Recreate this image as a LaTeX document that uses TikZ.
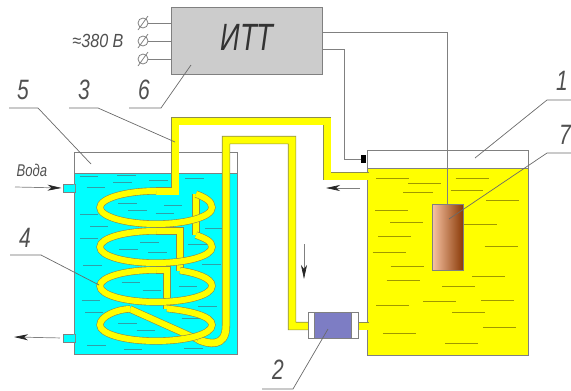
\documentclass[tikz,border=0pt]{standalone}
\usepackage{fontspec}
\setmainfont{Liberation Sans}
\usetikzlibrary{arrows.meta,positioning}
\definecolor{linegray}{HTML}{808080}
\definecolor{pipeline}{HTML}{8C8C50}
\definecolor{bodygray}{HTML}{CCCCCC}
\definecolor{pipeyellow}{HTML}{FFFF00}
\definecolor{watercyan}{HTML}{00FFFF}
\definecolor{filterblue}{HTML}{7D7DC4}
\definecolor{dashy}{HTML}{A09800}
\definecolor{dashc}{HTML}{30A0A8}
\definecolor{labelgray}{HTML}{505050}
\definecolor{elL}{HTML}{F8C4A4}
\definecolor{elR}{HTML}{8A3A08}
\tikzset{
  box/.style={draw=linegray,line width=.9pt,inner sep=0pt,outer sep=0pt,anchor=north west},
  wire/.style={draw=linegray,line width=.9pt},
  leader/.style={draw=labelgray!85,line width=.7pt},
  flow/.style={draw=linegray,line width=.7pt,-{Stealth[length=14pt,width=6pt,inset=4pt,black!85]}},
  num/.style={text=labelgray,font=\fontsize{28}{28}\selectfont\itshape,inner sep=0pt},
  lbl/.style={text=labelgray,font=\fontsize{19}{19}\selectfont\itshape,inner sep=0pt},
  term/.style={draw=linegray,line width=.8pt,circle,minimum size=10pt,inner sep=0pt},
}
\newcommand{\nx}[2]{\scalebox{#1}[1]{#2}}
% a pipe piece: grey outline under a yellow core; #1 outer width, #2 core width, #3 path
\newcommand{\pipepiece}[3]{%
  \path[draw=pipeline,line width=#1pt,miter limit=10] #3;
  \path[draw=pipeyellow,line width=#2pt,miter limit=10] #3;}
\begin{document}
\begin{tikzpicture}[x=1pt,y=-1pt]
\useasboundingbox (0,0) rectangle (571,391);
% tanks
\node[box,fill=white,minimum width=163pt,minimum height=202pt] (tankL) at (74.5,152) {};
\fill[watercyan] (74.5,173) rectangle (237,354);
\draw[wire] (74.5,173) -- (237,173);
\node[box,minimum width=163pt,minimum height=202pt] (tankLb) at (74.5,152) {};
\node[box,fill=white,minimum width=161pt,minimum height=205pt] (tankR) at (367,150) {};
\fill[pipeyellow] (367,168) rectangle (528,355);
\draw[wire] (367,168) -- (528,168);
\node[box,minimum width=161pt,minimum height=205pt] (tankRb) at (367,150) {};
% nozzles
\node[box,fill=watercyan,minimum width=12pt,minimum height=8pt] (nozA) at (63,184) {};
\node[box,fill=watercyan,minimum width=12pt,minimum height=8pt] (nozB) at (63,334) {};
\fill[watercyan] (73,184.6) rectangle (75.2,191.4) (73,334.6) rectangle (75.2,341.4);
% liquid dashes
\foreach \a/\b/\c in {288/387/535,385/484/550,370/460/578,527/626/534,512/610/572}
  \draw[dashy,line width=1pt] ({280+\a/3},{\c/3}) -- ({280+\b/3},{\c/3});
\foreach \a/\b/\c in {285/385/60,330/430/97,295/393/139,278/378/187,332/432/230,320/420/271,288/388/346,310/409/431,430/529/333,495/594/459,516/615/368,487/585/290,576/675/260,604/703/331,610/709/412,614/713/168,553/652/103,618/718/32}
  \draw[dashy,line width=1pt] ({280+\a/3},{190+\c/3}) -- ({280+\b/3},{190+\c/3});
\foreach \a/\b/\c in {240/295/529,352/407/527,340/395/547,260/315/563,448/503/540,556/611/536}
  \draw[dashc,line width=.9pt] ({\a/3},{\c/3}) -- ({\b/3},{\c/3});
\foreach \a/\b/\c in {355/410/41,385/440/61,492/547/46,467/522/71,240/295/74,270/325/110,240/295/144,615/670/114,420/477/157,358/413/177,445/500/188,565/620/163,250/305/227,607/662/222,365/420/278,428/483/302,537/592/288,245/300/332,255/310/367,595/650/350,355/410/400,545/600/386,410/465/421,262/317/465,372/427/477,553/608/475}
  \draw[dashc,line width=.9pt] ({\a/3},{190+\c/3}) -- ({\b/3},{190+\c/3});
% pipes: risers first, coils over them
\pipepiece{8.2}{7}{(368.5,176) -- (327,176) -- (327,121) -- (175,121) -- (175,191) -- (156,191)}
\pipepiece{8.2}{7}{(358,326) -- (368.5,326)}
\pipepiece{7.2}{6}{(130,309) -- (198,339.5)}
\pipepiece{8.2}{7}{(198,339.5) .. controls (208,344) and (226,348) .. (226,326) -- (226,140) -- (292,140) -- (292,326) -- (310,326)}
\pipepiece{7.2}{6}{(196,194) -- (196,235)}
\pipepiece{7.2}{6}{(156,231) -- (180,231) -- (180,270.5)}
\pipepiece{7.2}{6}{(156,270) -- (167,270) -- (167,308.5)}
\pipepiece{7.2}{6}{(156,191)
 .. controls (125,191) and (100,198.5) .. (100,207.5)
 .. controls (100,216.5) and (125,224) .. (156,224)
 .. controls (187,224) and (212,216.5) .. (212,207.5)
 .. controls (212,201) and (204,197) .. (196,194)}
\pipepiece{7.2}{6}{(196,235)
 .. controls (204,238) and (212,241) .. (212,247)
 .. controls (212,256) and (187,263) .. (156,263)
 .. controls (125,263) and (100,256) .. (100,247)
 .. controls (100,238) and (125,231) .. (156,231)}
\pipepiece{7.2}{6}{(180,270.5)
 .. controls (196,273) and (212,278) .. (212,286)
 .. controls (212,295) and (187,302) .. (156,302)
 .. controls (125,302) and (100,295) .. (100,286)
 .. controls (100,277) and (125,270) .. (156,270)}
\pipepiece{7.2}{6}{(167,308.5)
 .. controls (190,311) and (212,316) .. (212,325)
 .. controls (212,334) and (187,341) .. (156,341)
 .. controls (125,341) and (100,334) .. (100,325)
 .. controls (100,316) and (118,309) .. (130,309)}
% filter
\node[box,fill=white,minimum width=50pt,minimum height=26pt] (filter) at (308,312) {};
\node[box,fill=filterblue,minimum width=37pt,minimum height=26pt] (filtercore) at (314,312) {};
% electrode
\node[box,left color=elL,right color=elR,minimum width=31pt,minimum height=66pt] (electrode) at (432,204) {};
% ITT
\node[box,fill=bodygray,minimum width=151pt,minimum height=67pt] (itt) at (171,7) {};
\node[text=black!80,font=\fontsize{38}{38}\selectfont\itshape,inner sep=0pt] (ittlabel) at (247,37) {\nx{.72}{ИТТ}};
% terminals
\foreach \t/\y in {t1/23,t2/41,t3/59}{
  \node[term] (\t) at (143,\y) {};
  \draw[wire] (\t) -- (\t -| itt.west);
  \draw[draw=linegray,line width=.8pt] ([shift={(-5,7)}]\t.center) -- ([shift={(5,-7)}]\t.center);
}
% sensor and wires
\node[fill=black,inner sep=0pt,minimum width=5.5pt,minimum height=8pt] (sensor) at (363.5,159) {};
\coordinate (wa) at (322,32);
\coordinate (wb) at (322,49);
\draw[wire] (wa) -| (electrode.north);
\draw[wire] (wb) -- (344,49) |- (sensor.west);
% flow arrows
\coordinate (a1s) at (15,187); \coordinate (a2e) at (14,337);
\coordinate (a3s) at (360,188); \coordinate (a3e) at (326,188);
\coordinate (a4s) at (304,244); \coordinate (a4e) at (304,279);
\draw[flow,shorten >=1.5pt] (a1s) -- (nozA.west);
\draw[flow,shorten <=3pt] (nozB.west) -- (a2e);
\draw[flow] (a3s) -- (a3e);
\draw[flow] (a4s) -- (a4e);
% labels and leaders
\node[lbl] (volt) at (98,41) {\nx{.85}{≈380 В}};
\node[lbl,font=\fontsize{17}{17}\selectfont\itshape] (voda) at (32,170) {\nx{.77}{Вода}};
\node[num] (n5) at (23,90) {\nx{.75}{5}};
\node[num] (n3) at (84,90) {\nx{.75}{3}};
\node[num] (n6) at (144,90) {\nx{.75}{6}};
\node[num] (n4) at (25,238) {\nx{.75}{4}};
\node[num] (n2) at (278,370) {\nx{.75}{2}};
\node[num] (n1) at (562,81) {\nx{.75}{1}};
\node[num] (n7) at (565,135) {\nx{.75}{7}};
\coordinate (l5a) at (9,108); \coordinate (l5b) at (38,108); \coordinate (l5c) at (91,164);
\coordinate (l3a) at (69,108); \coordinate (l3b) at (98,108); \coordinate (l3c) at (175,142);
\coordinate (l6a) at (129,108); \coordinate (l6b) at (161,108); \coordinate (l6c) at (191,65);
\coordinate (l4a) at (10,255); \coordinate (l4b) at (41,255); \coordinate (l4c) at (99,285);
\coordinate (l1a) at (571,100); \coordinate (l1b) at (547,100); \coordinate (l1c) at (475,158);
\coordinate (l7a) at (571,153); \coordinate (l7b) at (547,153); \coordinate (l7c) at (449,219);
\coordinate (l2a) at (262,389); \coordinate (l2b) at (293,389); \coordinate (l2c) at (328,329);
\foreach \k in {5,3,6,4,1,7,2} \draw[leader] (l\k a) -- (l\k b) -- (l\k c);
\end{tikzpicture}
\end{document}
